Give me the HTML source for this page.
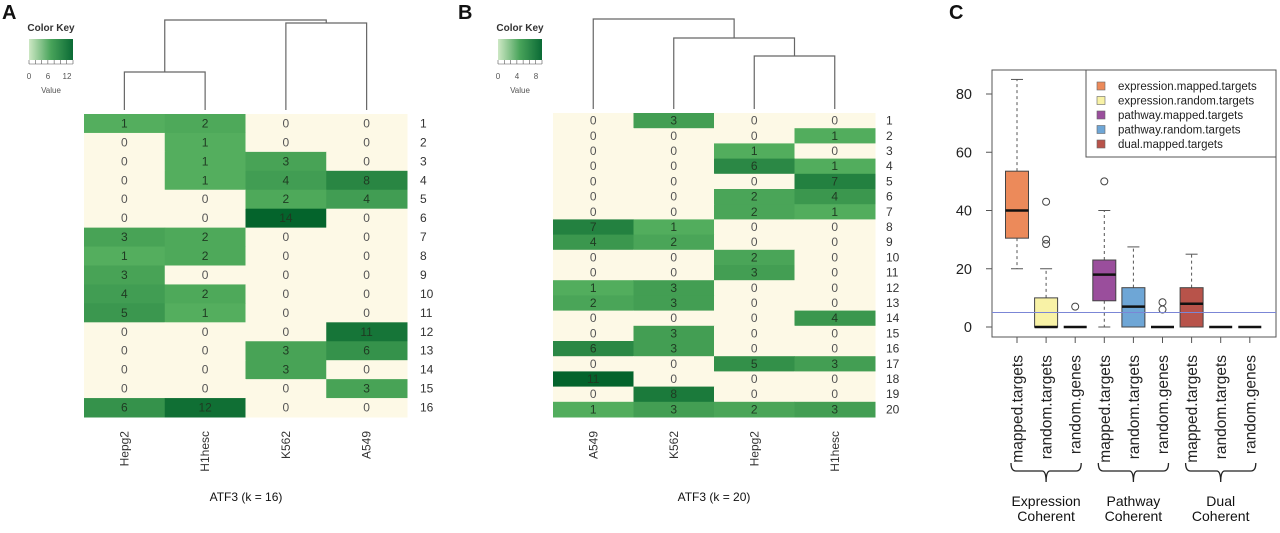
<!DOCTYPE html>
<html><head><meta charset="utf-8"><style>
html,body{margin:0;padding:0;background:#fff;}
svg{display:block;font-family:"Liberation Sans",Arial,sans-serif;}
</style></head><body>
<svg id="fig" width="1280" height="533" viewBox="0 0 1280 533" xmlns="http://www.w3.org/2000/svg">
<g id="pa"></g>
<g id="pb"></g>
<g id="pc"></g>
</svg>
<script>
const NS="http://www.w3.org/2000/svg";
// ---- Panel A data ----
const colsA=["Hepg2","H1hesc","K562","A549"];
const matA=[[1,2,0,0],[0,1,0,0],[0,1,3,0],[0,1,4,8],[0,0,2,4],[0,0,14,0],[3,2,0,0],[1,2,0,0],[3,0,0,0],[4,2,0,0],[5,1,0,0],[0,0,0,11],[0,0,3,6],[0,0,3,0],[0,0,0,3],[6,12,0,0]];
const keyTicksA=["0","6","12"];
// ---- Panel B data ----
const colsB=["A549","K562","Hepg2","H1hesc"];
const matB=[[0,3,0,0],[0,0,0,1],[0,0,1,0],[0,0,6,1],[0,0,0,7],[0,0,2,4],[0,0,2,1],[7,1,0,0],[4,2,0,0],[0,0,2,0],[0,0,3,0],[1,3,0,0],[2,3,0,0],[0,0,0,4],[0,3,0,0],[6,3,0,0],[0,0,5,3],[11,0,0,0],[0,8,0,0],[1,3,2,3]];
const keyTicksB=["0","4","8"];
// ---- Panel C data ----
const boxCats=["mapped.targets","random.targets","random.genes","mapped.targets","random.targets","random.genes","mapped.targets","random.targets","random.genes"];
const boxLo=[20,0,0,0,0,0,0,0,0];
const boxQ1=[30.5,0,0,9,0,0,0,0,0];
const boxMed=[40,0,0,18,7,0,8,0,0];
const boxQ3=[53.5,10,0,23,13.5,0,13.5,0,0];
const boxHi=[85,20,0,40,27.5,0,25,0,0];
const boxOut=[[],[28.5,30,43],[7],[50],[],[6,8.5],[],[],[]];
const boxFill=["#EC8A5A","#F8F2A6","#000","#9A4E9C","#6EA6D6","#000","#B8534A","#000","#000"];
const yTicks=[0,20,40,60,80];
const legendLabels=["expression.mapped.targets","expression.random.targets","pathway.mapped.targets","pathway.random.targets","dual.mapped.targets"];
const legendColors=["#EC8A5A","#F8F2A6","#9A4E9C","#6EA6D6","#B8534A"];
const groupLabels=[["Expression","Coherent"],["Pathway","Coherent"],["Dual","Coherent"]];
const refLine=5;

function el(parent,tag,attrs,text){const e=document.createElementNS(NS,tag);for(const k in attrs)e.setAttribute(k,attrs[k]);if(text!==undefined)e.textContent=text;parent.appendChild(e);return e;}
function cellColor(v,max){if(v===0)return "#FDF9E6";const t=Math.min(1,v/max);const a=[90,180,98],b=[4,100,44];return `rgb(${Math.round(a[0]+(b[0]-a[0])*t)},${Math.round(a[1]+(b[1]-a[1])*t)},${Math.round(a[2]+(b[2]-a[2])*t)})`;}

function heatmap(g,mat,cols,x0,x1,y0,y1,rowLabX,max){
  const nc=cols.length,nr=mat.length,cw=(x1-x0)/nc,rh=(y1-y0)/nr;
  mat.forEach((row,i)=>row.forEach((v,j)=>{
    const r=el(g,"rect",{x:x0+j*cw,y:y0+i*rh,width:cw+0.5,height:rh+0.5,fill:cellColor(v,max)});
    
    
    const t=el(g,"text",{x:x0+(j+0.5)*cw,y:y0+(i+0.5)*rh+4,"text-anchor":"middle","font-size":12,fill:v?"#1f3a22":"#555"},String(v));
    
    
  }));
  for(let i=0;i<nr;i++){
    const t=el(g,"text",{x:rowLabX,y:y0+(i+0.5)*rh+4,"font-size":12,fill:"#333"},String(i+1));
    
    
  }
  cols.forEach((c,j)=>{const cx=x0+(j+0.5)*cw;
    const t=el(g,"text",{x:0,y:0,"text-anchor":"end","font-size":12,fill:"#333",transform:`translate(${cx+4},431) rotate(-90)`},c);
    
    
  });
  return {cw,cx:j=>x0+(j+0.5)*cw};
}
function colorKey(g,x,ticks){
  const id="grad"+x;
  const d=el(g,"defs",{});const lg=el(d,"linearGradient",{id:id});
  el(lg,"stop",{offset:"0","stop-color":"#CDE8C4"});el(lg,"stop",{offset:"0.5","stop-color":"#48A35A"});el(lg,"stop",{offset:"1","stop-color":"#0A6A35"});
  const t0=el(g,"text",{x:x+22,y:31,"text-anchor":"middle","font-size":10,"font-weight":"bold",fill:"#333"},"Color Key");
  
  const r=el(g,"rect",{x:x,y:39,width:44,height:21,fill:`url(#${id})`});
  
  for(let i=0;i<=7;i++)el(g,"line",{x1:x+i*44/7,x2:x+i*44/7,y1:60,y2:64,stroke:"#555","stroke-width":0.6});
  el(g,"line",{x1:x,x2:x+44,y1:64,y2:64,stroke:"#555","stroke-width":0.6});
  ticks.forEach((tk,i)=>{const t=el(g,"text",{x:x+i*19,y:79,"text-anchor":"middle","font-size":8,fill:"#555"},tk);
    });
  const v=el(g,"text",{x:x+22,y:93,"text-anchor":"middle","font-size":8,fill:"#555"},"Value");
  
}
function dpath(g,pts){el(g,"polyline",{points:pts.map(p=>p.join(",")).join(" "),fill:"none",stroke:"#666","stroke-width":1.2});}

// Panel A
const ga=document.getElementById("pa");
let t=el(ga,"text",{x:2,y:19,"font-size":20,"font-weight":"bold",fill:"#111"},"A");
colorKey(ga,29,keyTicksA);
const ha=heatmap(ga,matA,colsA,84,407,114,417,420,14);
let dg=el(ga,"g",{});
let c=[0,1,2,3].map(ha.cx);
dpath(dg,[[c[0],110],[c[0],72],[c[1],72],[c[1],110]]);
dpath(dg,[[c[2],110],[c[2],23],[c[3],23],[c[3],110]]);
dpath(dg,[[(c[0]+c[1])/2,72],[(c[0]+c[1])/2,20],[(c[2]+c[3])/2,20],[(c[2]+c[3])/2,23]]);
t=el(ga,"text",{x:246,y:501,"text-anchor":"middle","font-size":12,fill:"#111"},"ATF3 (k = 16)");

// Panel B
const gb=document.getElementById("pb");
t=el(gb,"text",{x:458,y:19,"font-size":20,"font-weight":"bold",fill:"#111"},"B");
colorKey(gb,498,keyTicksB);
const hb=heatmap(gb,matB,colsB,553,875,113,417,886,11);
dg=el(gb,"g",{});
c=[0,1,2,3].map(hb.cx);
const m23=(c[2]+c[3])/2,m123=(c[1]+m23)/2;
dpath(dg,[[c[2],109],[c[2],56],[c[3],56],[c[3],109]]);
dpath(dg,[[c[1],109],[c[1],38],[m23,38],[m23,56]]);
dpath(dg,[[c[0],109],[c[0],19],[m123,19],[m123,38]]);
t=el(gb,"text",{x:714,y:501,"text-anchor":"middle","font-size":12,fill:"#111"},"ATF3 (k = 20)");

// Panel C
const gc=document.getElementById("pc");
t=el(gc,"text",{x:949,y:19,"font-size":20,"font-weight":"bold",fill:"#111"},"C");
const PX0=992,PX1=1276,PY0=70,PY1=337;
const yS=v=>327-v*(327-94)/80;
const xS=i=>1017+i*29.1;
let fr=el(gc,"rect",{x:PX0,y:PY0,width:PX1-PX0,height:PY1-PY0,fill:"none",stroke:"#555","stroke-width":1});

yTicks.forEach(v=>{el(gc,"line",{x1:PX0-6,x2:PX0,y1:yS(v),y2:yS(v),stroke:"#555"});
  const tt=el(gc,"text",{x:972,y:yS(v)+5,"text-anchor":"end","font-size":14.5,fill:"#222"},String(v));
  });
el(gc,"line",{x1:PX0,x2:PX0,y1:yS(0),y2:yS(80),stroke:"#555"});
const bw=23;
boxCats.forEach((cat,i)=>{
  const x=xS(i);const bg=el(gc,"g",{});
  
  
  if(boxHi[i]>boxQ3[i])el(bg,"line",{x1:x,x2:x,y1:yS(boxQ3[i]),y2:yS(boxHi[i]),stroke:"#555","stroke-dasharray":"3,3"});
  if(boxHi[i]>boxQ3[i])el(bg,"line",{x1:x-6,x2:x+6,y1:yS(boxHi[i]),y2:yS(boxHi[i]),stroke:"#555"});
  if(boxLo[i]<boxQ1[i]){el(bg,"line",{x1:x,x2:x,y1:yS(boxQ1[i]),y2:yS(boxLo[i]),stroke:"#555","stroke-dasharray":"3,3"});
    el(bg,"line",{x1:x-6,x2:x+6,y1:yS(boxLo[i]),y2:yS(boxLo[i]),stroke:"#555"});}
  if(boxQ3[i]>boxQ1[i])el(bg,"rect",{x:x-bw/2,y:yS(boxQ3[i]),width:bw,height:yS(boxQ1[i])-yS(boxQ3[i]),fill:boxFill[i],stroke:"#444"});
  el(bg,"line",{x1:x-bw/2,x2:x+bw/2,y1:yS(boxMed[i]),y2:yS(boxMed[i]),stroke:"#111","stroke-width":2.5});
  boxOut[i].forEach(o=>el(bg,"circle",{cx:x,cy:yS(o),r:3.5,fill:"none",stroke:"#444"}));
  el(gc,"line",{x1:x,x2:x,y1:PY1,y2:PY1+6,stroke:"#555"});
  const tl=el(gc,"text",{x:0,y:0,"text-anchor":"end","font-size":15.5,fill:"#222",transform:`translate(${x+5.5},355) rotate(-90)`},cat);
  
});
const rl=el(gc,"line",{x1:PX0,x2:PX1,y1:yS(refLine),y2:yS(refLine),stroke:"#7b86d6","stroke-width":1});

const lg=el(gc,"g",{});
el(lg,"rect",{x:1086,y:PY0,width:PX1-1086,height:87,fill:"#fff",stroke:"#555"});
legendLabels.forEach((lb,i)=>{const y=86+i*14.5;
  el(lg,"rect",{x:1097,y:y-4,width:8,height:8,fill:legendColors[i],stroke:"#666","stroke-width":0.6});
  const tt=el(lg,"text",{x:1118,y:y+4,"font-size":11.5,fill:"#222"},lb);
  });
groupLabels.forEach((gl,k)=>{
  const xa=xS(k*3)-6,xb=xS(k*3+2)+6,xm=(xa+xb)/2;
  el(gc,"path",{d:`M${xa},463 Q${xa},471 ${xa+5},471 L${xm-4},471 Q${xm},471 ${xm},482 Q${xm},471 ${xm+4},471 L${xb-5},471 Q${xb},471 ${xb},463`,fill:"none",stroke:"#222","stroke-width":1.3});
  const t1=el(gc,"text",{x:xm,y:506,"text-anchor":"middle","font-size":14,fill:"#111"},gl[0]);
  
  const t2=el(gc,"text",{x:xm,y:521,"text-anchor":"middle","font-size":14,fill:"#111"},gl[1]);
  
});
</script>
</body></html>
